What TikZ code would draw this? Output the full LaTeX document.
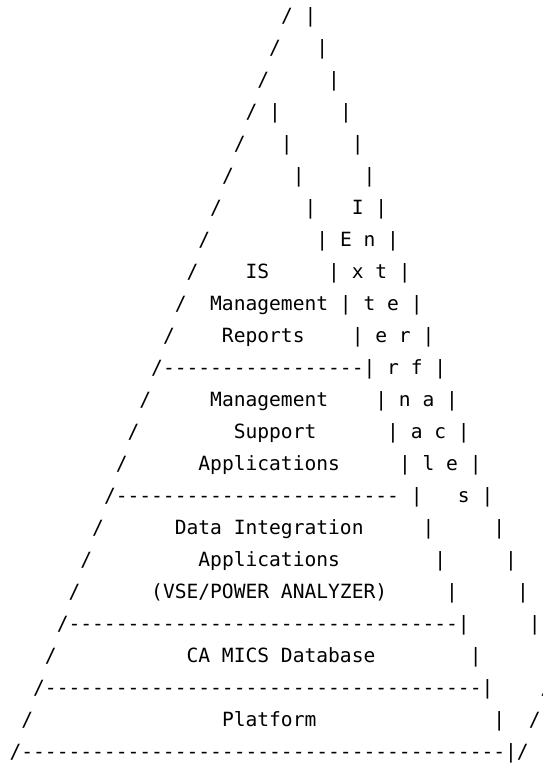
\documentclass[tikz,border=0pt]{standalone}
\usepackage{fontspec}
\setmonofont{DejaVu Sans Mono}
\begin{document}
\begin{tikzpicture}[
  asc/.style={anchor=base west, inner sep=0pt, outer sep=0pt,
              font=\ttfamily\fontsize{19.6pt}{32pt}\selectfont, text=black}]
\fill[white] (0pt,0pt) rectangle (543pt,-764pt);
\useasboundingbox (0pt,0pt) rectangle (543pt,-764pt);
\begin{scope}[shift={(9.6pt,-22.5pt)}, x=11.8pt, y=-32pt]
\node[asc] (l1)  at (23,0)  {/~|};
\node[asc] (l2)  at (22,1)  {/~~~|};
\node[asc] (l3)  at (21,2)  {/~~~~~|};
\node[asc] (l4)  at (20,3)  {/~|~~~~~|};
\node[asc] (l5)  at (19,4)  {/~~~|~~~~~|};
\node[asc] (l6)  at (18,5)  {/~~~~~|~~~~~|};
\node[asc] (l7)  at (17,6)  {/~~~~~~~|~~~I~|};
\node[asc] (l8)  at (16,7)  {/~~~~~~~~~|~E~n~|};
\node[asc] (l9)  at (15,8)  {/~~~~IS~~~~~|~x~t~|};
\node[asc] (l10) at (14,9)  {/~~Management~|~t~e~|};
\node[asc] (l11) at (13,10) {/~~~~Reports~~~~|~e~r~|};
\node[asc] (l12) at (12,11) {/-----------------|~r~f~|};
\node[asc] (l13) at (11,12) {/~~~~~Management~~~~|~n~a~|};
\node[asc] (l14) at (10,13) {/~~~~~~~~Support~~~~~~|~a~c~|};
\node[asc] (l15) at (9,14)  {/~~~~~~Applications~~~~~|~l~e~|};
\node[asc] (l16) at (8,15)  {/------------------------~|~~~s~|};
\node[asc] (l17) at (7,16)  {/~~~~~~Data~Integration~~~~~|~~~~~|};
\node[asc] (l18) at (6,17)  {/~~~~~~~~~Applications~~~~~~~~|~~~~~|};
\node[asc] (l19) at (5,18)  {/~~~~~~(VSE/POWER~ANALYZER)~~~~~|~~~~~|};
\node[asc] (l20) at (4,19)  {/---------------------------------|~~~~~|};
\node[asc] (l21) at (3,20)  {/~~~~~~~~~~~CA~MICS~Database~~~~~~~~|};
\node[asc] (l22) at (2,21)  {/-------------------------------------|~~~~/};
\node[asc] (l23) at (1,22)  {/~~~~~~~~~~~~~~~~Platform~~~~~~~~~~~~~~~|~~/};
\node[asc] (l24) at (0,23)  {/-----------------------------------------|/};
\end{scope}
\end{tikzpicture}
\end{document}
